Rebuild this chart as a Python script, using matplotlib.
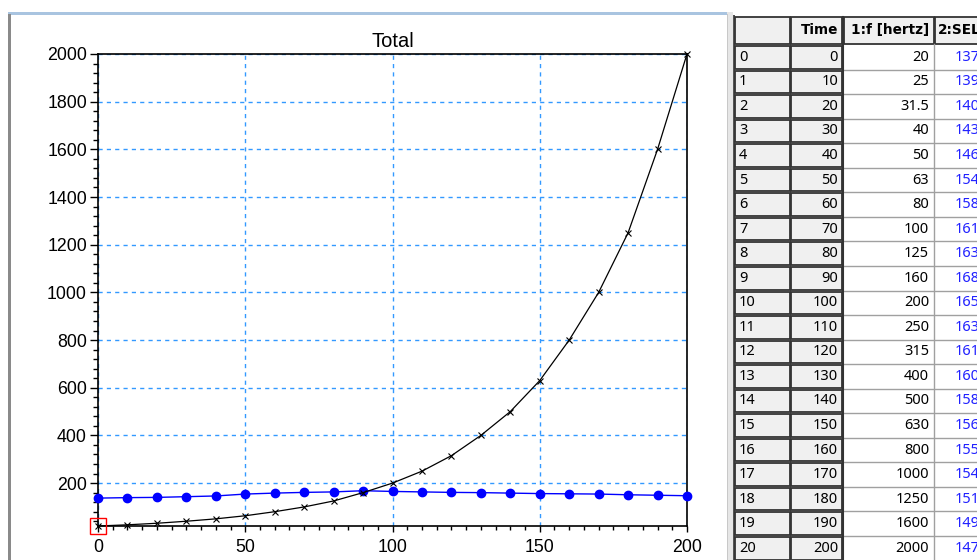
import matplotlib
matplotlib.use("Agg")
import matplotlib.pyplot as plt
from matplotlib.patches import Rectangle
from matplotlib.ticker import MultipleLocator

# data
time = [0, 10, 20, 30, 40, 50, 60, 70, 80, 90, 100, 110, 120, 130, 140, 150, 160, 170, 180, 190, 200]
freq = [20, 25, 31.5, 40, 50, 63, 80, 100, 125, 160, 200, 250, 315, 400, 500, 630, 800, 1000, 1250, 1600, 2000]
sel = [137, 139, 140, 143, 146, 154, 158, 161, 163, 168, 165, 163, 161, 160, 158, 156, 155, 154, 151, 149, 147]
freq_labels = ["20", "25", "31.5", "40", "50", "63", "80", "100", "125", "160", "200", "250", "315", "400",
               "500", "630", "800", "1000", "1250", "1600", "2000"]
headers = ["Time", "1:f [hertz]", "2:SEL"]

W, H = 977, 560
fig = plt.figure(figsize=(W / 100, H / 100), dpi=100)
fig.patch.set_facecolor("white")


def box(x0, y0, x1, y1):
    # pixel box (top-left origin) -> figure fraction
    return [x0 / W, 1 - y1 / H, (x1 - x0) / W, (y1 - y0) / H]


# frame / table layer in pixel coordinates
bg = fig.add_axes([0, 0, 1, 1])
bg.set_xlim(0, W)
bg.set_ylim(H, 0)
bg.axis("off")

# chart panel frame
bg.add_patch(Rectangle((8, 12), 719, 3, fc="#a9c4e0", ec="none"))
bg.add_patch(Rectangle((8, 14), 2.5, H, fc="#8a8a8a", ec="none"))
bg.add_patch(Rectangle((727, 12), 6, H, fc="#e6e6e6", ec="none"))
bg.add_patch(Rectangle((727, 14), 1, H, fc="#c8c8c8", ec="none"))

# table
row_h = 24.55
top = 17
hdr_h = 27
col_idx = (735, 790)
col_time = (791, 842)
col_f = (843, 934)
col_sel = (934, 1000)
tfont = ["Noto Sans", "DejaVu Sans"]
hfont = ["DejaVu Sans"]

bg.add_patch(Rectangle((733, 15), 1.5, H, fc="#555555", ec="none"))


def gray_cell(x0, x1, y0, y1):
    bg.add_patch(Rectangle((x0, y0), x1 - x0, y1 - y0, fc="#f0f0f0", ec="#333333", lw=1.3))


# header row
gray_cell(col_idx[0], col_idx[1], top, top + hdr_h)
gray_cell(col_time[0], col_time[1], top, top + hdr_h)
gray_cell(col_f[0] + 1, col_f[1], top, top + hdr_h)
gray_cell(col_sel[0] + 1, col_sel[1], top, top + hdr_h)
ty = top + hdr_h / 2
bg.text(col_time[1] - 4, ty, headers[0], ha="right", va="center", fontsize=9.8, fontweight="bold", family=hfont)
bg.text(col_f[1] - 5, ty, headers[1], ha="right", va="center", fontsize=9.8, fontweight="bold", family=hfont)
bg.text(col_sel[0] + 4, ty, headers[2], ha="left", va="center", fontsize=9.8, fontweight="bold", family=hfont)

y_start = top + hdr_h + 2
for i in range(len(time)):
    y0 = y_start + i * row_h
    y1 = y0 + row_h - 2
    yc = (y0 + y1) / 2
    gray_cell(col_idx[0], col_idx[1], y0, y1)
    gray_cell(col_time[0], col_time[1], y0, y1)
    bg.plot([col_f[0], W], [y1 + 1, y1 + 1], color="#a0a0a0", lw=1)
    bg.text(col_idx[0] + 4, yc, str(i), ha="left", va="center", fontsize=10.5, family=tfont)
    bg.text(col_time[1] - 4, yc, str(time[i]), ha="right", va="center", fontsize=10.5, family=tfont)
    bg.text(col_f[1] - 5, yc, freq_labels[i], ha="right", va="center", fontsize=10.5, family=tfont)
    bg.text(980, yc, str(sel[i]), ha="right", va="center", fontsize=10.5, color="#2020ff", family=tfont)
bg.plot([col_f[1], col_f[1]], [top + hdr_h, H], color="#a0a0a0", lw=1)
bg.plot([col_f[0], col_f[0]], [top, H], color="#333333", lw=1.5)

# chart
ax = fig.add_axes(box(98, 54, 687, 526))
ax.plot(time, sel, color="#0000ff", lw=1, marker="o", ms=6, clip_on=False, zorder=3)
ax.plot(time, freq, color="black", lw=0.9, marker="x", ms=5, mew=0.8, clip_on=False, zorder=4)
ax.plot([time[0]], [freq[0]], marker="s", ms=12, mfc="none", mec="red", mew=1, clip_on=False, zorder=5)

ax.set_xlim(0, 200)
ax.set_ylim(20, 2000)
ax.xaxis.set_major_locator(MultipleLocator(50))
ax.xaxis.set_minor_locator(MultipleLocator(5))
ax.yaxis.set_major_locator(MultipleLocator(200))
ax.yaxis.set_minor_locator(MultipleLocator(40))
ax.grid(True, which="major", color="#3399ff", ls=(0, (3, 3)), lw=1)
ax.set_axisbelow(True)
for s in ax.spines.values():
    s.set_color("black")
    s.set_linewidth(1.2)
cfont = ["Liberation Sans", "DejaVu Sans"]
ax.tick_params(axis="x", which="major", length=4.5, width=1, pad=5, labelsize=12.8)
ax.tick_params(axis="x", which="minor", length=3, width=1)
ax.tick_params(axis="y", which="major", length=5.5, width=1, pad=2.5, labelsize=12.8)
ax.tick_params(axis="y", which="minor", length=3.5, width=1)
for lab in ax.get_xticklabels() + ax.get_yticklabels():
    lab.set_family(cfont)
ax.set_title("Total", fontsize=14.5, family=cfont, pad=5)

fig.savefig("out.png", dpi=100)
